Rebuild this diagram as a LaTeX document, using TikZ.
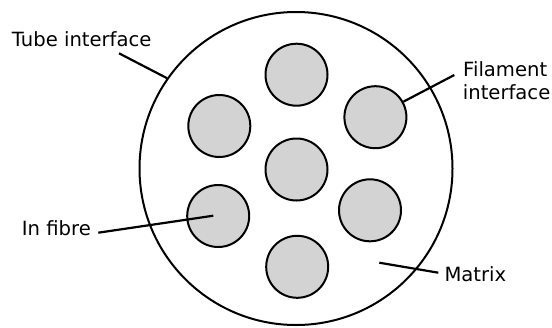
\documentclass[tikz,border=0pt]{standalone}
\usepackage{fontspec}
\setmainfont{DejaVu Sans}
\begin{document}
\begin{tikzpicture}[x=1pt,y=-1pt,
  fibre/.style={circle,draw=black,line width=2pt,fill=fibgrey,minimum size=62pt,inner sep=0pt},
  tube/.style={circle,draw=black,line width=2pt,minimum size=313pt,inner sep=0pt},
  lbl/.style={anchor=base west,inner sep=0pt,font=\fontsize{19.6}{23.5}\selectfont},
  leader/.style={line width=2.2pt}]
\definecolor{fibgrey}{HTML}{D3D3D3}
\useasboundingbox (0,0) rectangle (552,327);
\node[tube] (big) at (296,168.5) {};
\node[fibre] (ftop) at (296.5,74.7) {};
\node[fibre] (ful) at (219.3,126) {};
\node[fibre] (fur) at (375.4,117.2) {};
\node[fibre] (fc) at (296.5,169.5) {};
\node[fibre] (fll) at (218.2,216) {};
\node[fibre] (flr) at (370,210.3) {};
\node[fibre] (fbot) at (297.2,266.8) {};
% labels
\node[lbl] (ltube) at (11.7,46.7) {Tube interface};
\node[lbl] (lfil1) at (463,76) {Filament};
\node[lbl] (lfil2) at (462.7,99.5) {interface};
\node[lbl] (lin) at (21.7,235) {In fibre};
\node[lbl] (lmat) at (444.3,281.7) {Matrix};
% leader ends
\coordinate (ctube) at (119,53.3);
\coordinate (cfil) at (454.3,75);
\coordinate (cin) at (98.3,232.7);
\coordinate (cinend) at (213.3,215.7);
\coordinate (cmat1) at (379.3,262.7);
\coordinate (cmat2) at (438.3,272.7);
\draw[leader] (ctube) -- (big.145.8);
\draw[leader] (cfil) -- (fur.29);
\draw[leader] (cin) -- (cinend);
\draw[leader] (cmat1) -- (cmat2);
\end{tikzpicture}
\end{document}
